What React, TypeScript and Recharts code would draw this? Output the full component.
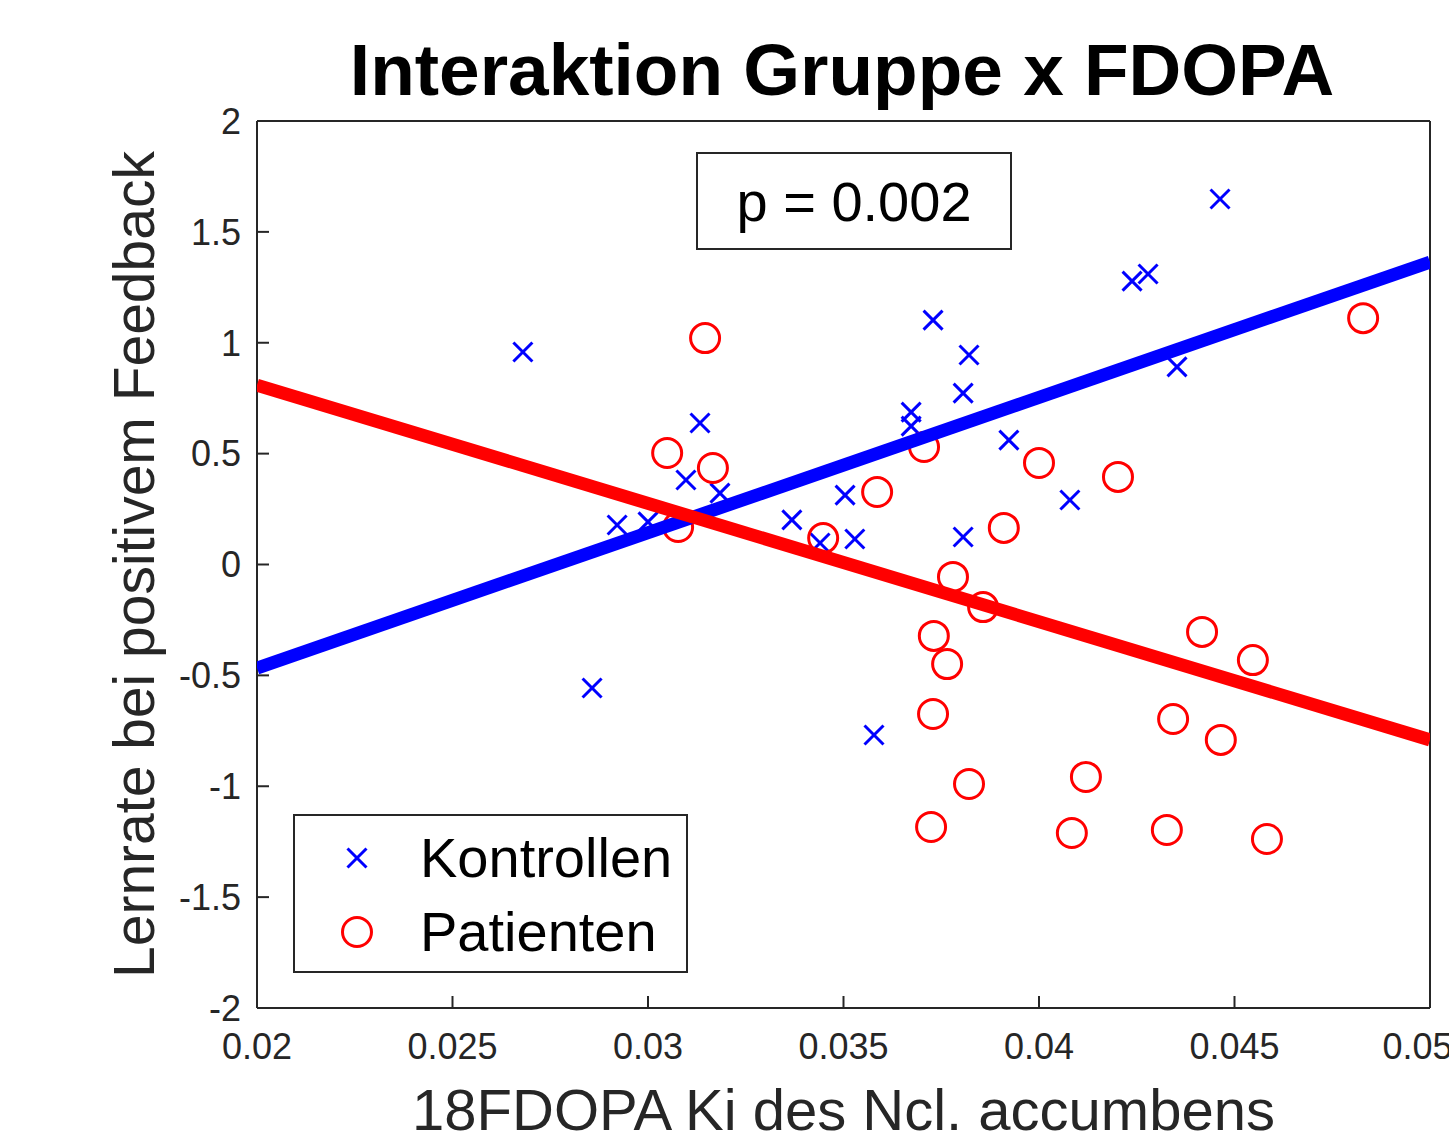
import React from 'react';
import { ScatterChart, Scatter, XAxis, YAxis, Legend, Label } from 'recharts';

// Kontrollen (blue crosses)
const kontrollenX = [0.0268, 0.02857, 0.02921, 0.03, 0.03097, 0.03133, 0.03184, 0.03368, 0.0344, 0.03504, 0.03529, 0.03578, 0.03673, 0.03673, 0.03729, 0.03821, 0.03806, 0.03923, 0.03806, 0.04079, 0.04238, 0.04279, 0.04463, 0.04353];
const kontrollenY = [0.958, -0.557, 0.178, 0.192, 0.381, 0.638, 0.322, 0.201, 0.097, 0.313, 0.115, -0.769, 0.687, 0.624, 1.102, 0.945, 0.773, 0.561, 0.124, 0.291, 1.278, 1.31, 1.648, 0.891];

// Patienten (red circles)
const patientenX = [0.03146, 0.03049, 0.03166, 0.03077, 0.03448, 0.03586, 0.03706, 0.0391, 0.04, 0.04202, 0.0378, 0.03857, 0.03731, 0.03765, 0.03729, 0.03821, 0.03724, 0.0412, 0.04084, 0.04327, 0.04343, 0.04465, 0.04417, 0.04547, 0.04583, 0.04829];
const patientenY = [1.021, 0.503, 0.435, 0.169, 0.119, 0.327, 0.53, 0.165, 0.458, 0.395, -0.056, -0.192, -0.322, -0.449, -0.674, -0.99, -1.184, -0.958, -1.211, -1.197, -0.697, -0.791, -0.304, -0.431, -1.238, 1.111];

// regression lines (end points at the axis limits)
const fitX = [0.02, 0.05];
const kontrollenFitY = [-0.467, 1.364];
const patientenFitY = [0.809, -0.791];

const xTicks = [0.02, 0.025, 0.03, 0.035, 0.04, 0.045, 0.05];
const yTicks = [-2, -1.5, -1, -0.5, 0, 0.5, 1, 1.5, 2];

const BLUE = '#0000ff';
const RED = '#ff0000';
const AXIS = '#262626';
const FONT = '"Liberation Sans", Arial, Helvetica, sans-serif';

const toPoints = (xs: number[], ys: number[]) => xs.map((x, i) => ({ x, y: ys[i] }));

const kontrollen = toPoints(kontrollenX, kontrollenY);
const patienten = toPoints(patientenX, patientenY);
const kontrollenFit = toPoints(fitX, kontrollenFitY);
const patientenFit = toPoints(fitX, patientenFitY);

const Cross = (props: any) => {
  const { cx, cy } = props;
  const a = 9.5;
  return (
    <g stroke={BLUE} strokeWidth={3}>
      <line x1={cx - a} y1={cy - a} x2={cx + a} y2={cy + a} />
      <line x1={cx - a} y1={cy + a} x2={cx + a} y2={cy - a} />
    </g>
  );
};

const Ring = (props: any) => {
  const { cx, cy } = props;
  return <circle cx={cx} cy={cy} r={14.5} fill="none" stroke={RED} strokeWidth={3} />;
};

const NoDot = () => <g />;

const renderLegend = () => (
  <div
    style={{
      width: 395,
      height: 159,
      boxSizing: 'border-box',
      border: `2px solid ${AXIS}`,
      background: '#fff',
      fontFamily: FONT,
      fontSize: 56,
      color: '#000',
      position: 'relative',
    }}
  >
    <svg width={60} height={159} style={{ position: 'absolute', left: 32, top: 0 }}>
      <Cross cx={30} cy={42} />
      <Ring cx={30} cy={116} />
    </svg>
    <div style={{ position: 'absolute', left: 125, top: 42, transform: 'translateY(-50%)', lineHeight: 1 }}>Kontrollen</div>
    <div style={{ position: 'absolute', left: 125, top: 116, transform: 'translateY(-50%)', lineHeight: 1 }}>Patienten</div>
  </div>
);

export default function App() {
  return (
    <div style={{ position: 'absolute', left: 0, top: 0, width: 1449, height: 1140, overflow: 'hidden', background: '#fff' }}>
      <div
        style={{
          position: 'absolute',
          left: 242,
          top: 33,
          width: 1200,
          textAlign: 'center',
          fontFamily: FONT,
          fontWeight: 'bold',
          fontSize: 73,
          lineHeight: '73px',
          color: '#000',
          zIndex: 2,
        }}
      >
        Interaktion Gruppe x FDOPA
      </div>
      <ScatterChart width={1449} height={1140} margin={{ top: 120, right: 18, bottom: 0, left: 0 }}>
        <XAxis
          type="number"
          dataKey="x"
          domain={[0.02, 0.05]}
          ticks={xTicks}
          tickFormatter={(v: number) => String(v)}
          height={132}
          tickSize={-12}
          tickMargin={37}
          axisLine={{ stroke: AXIS, strokeWidth: 2 }}
          tickLine={{ stroke: AXIS, strokeWidth: 2 }}
          tick={{ fill: AXIS, fontSize: 36, fontFamily: FONT }}
          allowDataOverflow
        >
          <Label
            value="18FDOPA Ki des Ncl. accumbens"
            position="insideBottom"
            offset={10}
            style={{ fill: AXIS, fontSize: 58, fontFamily: FONT }}
          />
        </XAxis>
        <XAxis
          xAxisId="top"
          orientation="top"
          type="number"
          dataKey="x"
          domain={[0.02, 0.05]}
          ticks={xTicks}
          height={1}
          tickSize={-12}
          tick={false}
          axisLine={{ stroke: AXIS, strokeWidth: 2 }}
          tickLine={{ stroke: AXIS, strokeWidth: 2 }}
          allowDataOverflow
        />
        <YAxis
          type="number"
          dataKey="y"
          domain={[-2, 2]}
          ticks={yTicks}
          width={257}
          tickSize={-12}
          tickMargin={28}
          axisLine={{ stroke: AXIS, strokeWidth: 2 }}
          tickLine={{ stroke: AXIS, strokeWidth: 2 }}
          tick={{ fill: AXIS, fontSize: 36, fontFamily: FONT }}
          allowDataOverflow
        >
          <Label
            value="Lernrate bei positivem Feedback"
            angle={-90}
            position="insideLeft"
            offset={134}
            style={{ fill: AXIS, fontSize: 57, fontFamily: FONT, textAnchor: 'middle' }}
          />
        </YAxis>
        <YAxis
          yAxisId="right"
          orientation="right"
          type="number"
          dataKey="y"
          domain={[-2, 2]}
          ticks={yTicks}
          width={1}
          tickSize={-12}
          tick={false}
          axisLine={{ stroke: AXIS, strokeWidth: 2 }}
          tickLine={{ stroke: AXIS, strokeWidth: 2 }}
          allowDataOverflow
        />
        <Scatter name="Kontrollen" data={kontrollen} shape={Cross} fill={BLUE} isAnimationActive={false} />
        <Scatter name="Patienten" data={patienten} shape={Ring} fill={RED} isAnimationActive={false} />
        <Scatter
          name="kontrollenFit"
          data={kontrollenFit}
          shape={NoDot}
          line={{ stroke: BLUE, strokeWidth: 13 }}
          legendType="none"
          isAnimationActive={false}
        />
        <Scatter
          name="patientenFit"
          data={patientenFit}
          shape={NoDot}
          line={{ stroke: RED, strokeWidth: 13 }}
          legendType="none"
          isAnimationActive={false}
        />
        <Legend
          layout="horizontal"
          verticalAlign="middle"
          align="center"
          content={renderLegend}
          wrapperStyle={{ position: 'absolute', left: 293, top: 814, width: 395, height: 159 }}
        />
      </ScatterChart>
      <div
        style={{
          position: 'absolute',
          left: 696,
          top: 152,
          width: 316,
          height: 98,
          boxSizing: 'border-box',
          border: `2px solid ${AXIS}`,
          background: '#fff',
          display: 'flex',
          alignItems: 'center',
          justifyContent: 'center',
          fontFamily: FONT,
          fontSize: 56,
          color: '#000',
        }}
      >
        p = 0.002
      </div>
    </div>
  );
}
